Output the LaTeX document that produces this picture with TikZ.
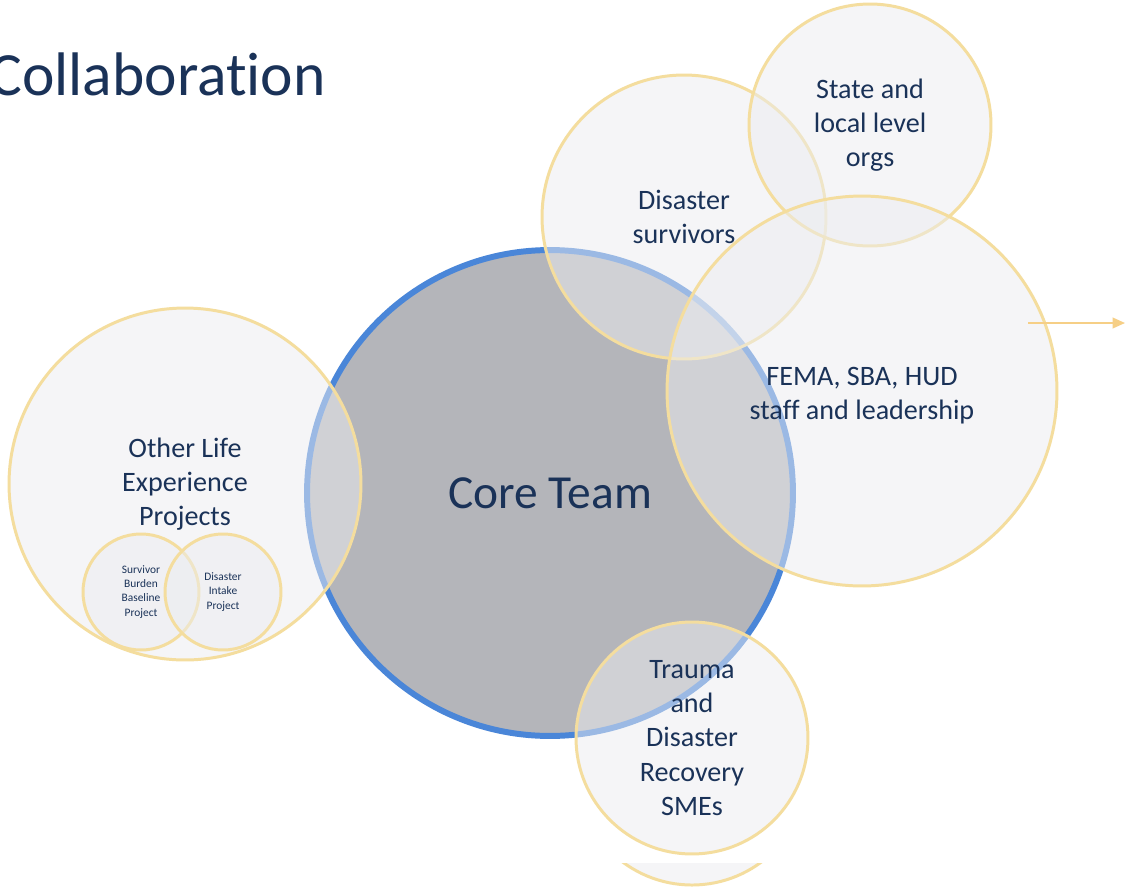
\documentclass[tikz,border=0pt]{standalone}
\usepackage{fontspec}
\setmainfont{Carlito}[Ligatures=NoCommon]
\usepackage{tikz}
\usetikzlibrary{arrows.meta, positioning}

\definecolor{navy}{RGB}{26,50,88}
\definecolor{coreblue}{RGB}{74,134,216}
\definecolor{coregray}{RGB}{180,181,186}
\definecolor{ringyellow}{RGB}{244,221,158}
\definecolor{ringfill}{RGB}{236,237,241}

\begin{document}
\begin{tikzpicture}[x=0.02cm, y=-0.02cm,
  core/.style={circle, draw=coreblue, line width=3.4pt, fill=coregray,
               minimum size=9.72cm, inner sep=0pt, text=navy,
               font=\fontsize{27}{32}\selectfont},
  ringline/.style={draw=ringyellow, line width=1.7pt, fill=ringfill, fill opacity=0.5},
  ring/.style={ringline, circle, text opacity=1, inner sep=0pt, align=center,
               text=navy, font=\fontsize{16}{19.4}\selectfont},
  proj/.style={ring, minimum size=2.32cm, font=\fontsize{6.5}{8}\selectfont},
  lbl/.style={align=center, inner sep=0pt, text=navy, font=\fontsize{16}{19.4}\selectfont},
  arr/.style={-{Triangle[length=7pt, width=6pt]}, draw=ringyellow!85!orange, line width=1.1pt}
]
\useasboundingbox (0,0) rectangle (1128,889);
\clip (0,0) rectangle (1128,889);
\fill[white] (0,0) rectangle (1128,889);

% title, partly cut at the left edge
\node[anchor=base east, inner sep=0pt, text=navy, font=\fontsize{35}{40}\selectfont]
  (title) at (326,95) {Collaboration};

% core team in the middle
\node[core] (coreteam) at (550,493) {Core Team};

% partner circles around it
\node[ring, minimum size=7.04cm] (otherlife) at (185,484) {Other Life\\Experience\\Projects};
\node[proj] (burden) at (141,592) {Survivor\\Burden\\Baseline\\Project};
\node[proj] (intake) at (223,592) {Disaster\\Intake\\Project};
\node[ring, minimum size=5.68cm] (survivors) at (684,217) {Disaster\\survivors};
\node[ring, minimum size=4.84cm] (stateorgs) at (870,125) {State and\\local level\\orgs};
\node[ring, minimum size=7.8cm] (fema) at (862,391) {};
\node[lbl] (femalbl) at (862,396) {FEMA, SBA, HUD\\staff and leadership};
\node[ring, minimum size=4.64cm] (trauma) at (692,738) {Trauma\\and\\Disaster\\Recovery\\SMEs};

% repeated bottom edge below the trauma circle
\begin{scope}
  \clip (540,863) rectangle (840,889);
  \draw[ringline] (692,769) circle[radius=116];
\end{scope}

% outgoing arrow on the right
\coordinate (arrtail) at (1028,323);
\coordinate (arrhead) at (1125,323);
\draw[arr] (arrtail) -- (arrhead);
\end{tikzpicture}
\end{document}
